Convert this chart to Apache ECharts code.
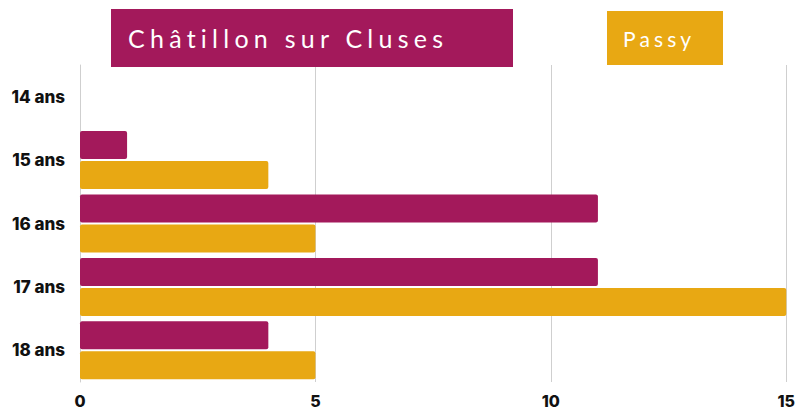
<!DOCTYPE html>
<html>
<head>
<meta charset="utf-8">
<script src="https://cdn.jsdelivr.net/npm/echarts@6/dist/echarts.min.js"></script>
<style>
  html, body { margin: 0; padding: 0; background: #ffffff; }
  #chart { width: 798px; height: 410px; }
  #chart text { font-variant-ligatures: none; font-feature-settings: "liga" 0; }
</style>
</head>
<body>
<div id="chart"></div>
<script>
// Age groups, top to bottom
const categories = ['14 ans', '15 ans', '16 ans', '17 ans', '18 ans'];
// Number of young people per age, by commune
const chatillon = [0, 1, 11, 11, 4];
const passy = [0, 4, 5, 15, 5];
const seriesNames = ['Châtillon sur Cluses', 'Passy'];
const xTicks = [0, 5, 10, 15];

const MAGENTA = '#a3195b';
const GOLD = '#e8a813';

const chart = echarts.init(document.getElementById('chart'), null, { renderer: 'svg' });

const labelFont = { fontFamily: 'Inter', fontWeight: 800, color: '#111111' };

chart.setOption({
  animation: false,
  backgroundColor: '#ffffff',
  legend: {
    left: 106,
    top: 9,
    padding: 0,
    itemGap: 89,
    itemWidth: 0,
    itemHeight: 14,
    selectedMode: false,
    data: [
      {
        name: seriesNames[0],
        icon: 'none',
        textStyle: {
          color: '#ffffff',
          fontFamily: 'Lato',
          fontWeight: 'normal',
          fontSize: 25,
          lineHeight: 25,
          backgroundColor: MAGENTA,
          width: 385,
          padding: [16.5, 0, 16.5, 17]
        }
      },
      {
        name: seriesNames[1],
        icon: 'none',
        textStyle: {
          color: '#ffffff',
          fontFamily: 'Lato',
          fontWeight: 'normal',
          fontSize: 21,
          lineHeight: 21,
          backgroundColor: GOLD,
          width: 100,
          padding: [18.5, 0, 14.5, 16]
        }
      }
    ]
  },
  grid: { left: 80, right: 11, top: 65, bottom: 28, containLabel: false },
  xAxis: {
    type: 'value',
    min: xTicks[0],
    max: xTicks[xTicks.length - 1],
    interval: 5,
    axisLine: { show: false },
    axisTick: { show: false },
    axisLabel: Object.assign({ fontSize: 16, lineHeight: 16, margin: 11 }, labelFont),
    splitLine: { show: true, lineStyle: { color: '#cfcfcf', width: 1 } }
  },
  yAxis: {
    type: 'category',
    data: categories,
    inverse: true,
    axisLine: { show: true, lineStyle: { color: '#cfcfcf', width: 1 } },
    axisTick: { show: false },
    axisLabel: Object.assign({ fontSize: 17, margin: 15 }, labelFont),
    splitLine: { show: false }
  },
  series: [
    {
      name: seriesNames[0],
      type: 'bar',
      data: chatillon,
      barWidth: 28,
      barGap: '7%',
      itemStyle: { color: MAGENTA, borderRadius: 2 }
    },
    {
      name: seriesNames[1],
      type: 'bar',
      data: passy,
      barWidth: 28,
      barGap: '7%',
      itemStyle: { color: GOLD, borderRadius: 2 }
    }
  ]
});

// Spread the legend lettering across its boxes
const spreadWidths = { 'Châtillon sur Cluses': 315, 'Passy': 68 };
document.querySelectorAll('#chart svg text').forEach(function (t) {
  const w = spreadWidths[t.textContent];
  if (w) {
    t.setAttribute('textLength', w);
    t.setAttribute('lengthAdjust', 'spacing');
  }
});
</script>
</body>
</html>
